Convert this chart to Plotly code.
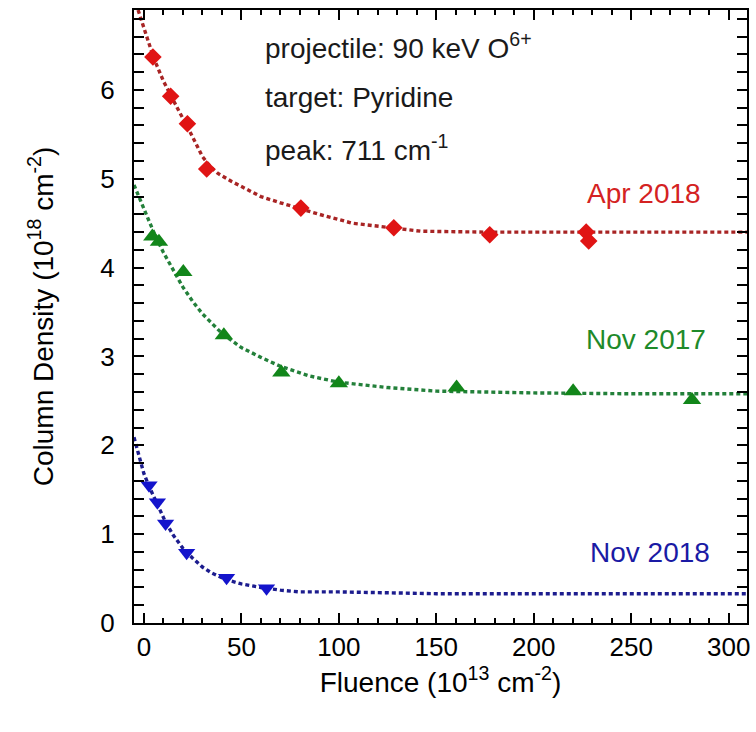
import plotly.graph_objects as go

# ---- Data ----
# Apr 2018 (red diamonds)
apr_x = [4.6, 13.7, 22.3, 32.2, 80.5, 128.2, 177.4, 226.9, 228.2]
apr_y = [6.37, 5.93, 5.62, 5.11, 4.67, 4.45, 4.37, 4.40, 4.30]
apr_fit_x = [-3, 0, 5, 10, 14, 18, 22, 26, 30, 34, 38, 45, 52, 60, 70, 80, 90, 107, 125, 142, 175, 225, 309.4]
apr_fit_y = [6.90, 6.70, 6.36, 6.10, 5.92, 5.76, 5.60, 5.42, 5.25, 5.14, 5.06, 4.97, 4.89, 4.80, 4.73, 4.66, 4.60, 4.50, 4.45, 4.41, 4.40, 4.40, 4.40]

# Nov 2017 (green triangles)
nov17_x = [4.3, 7.7, 20.2, 41.0, 70.5, 100.0, 160.4, 220.2, 281.2]
nov17_y = [4.35, 4.29, 3.95, 3.24, 2.82, 2.70, 2.65, 2.61, 2.51]
nov17_fit_x = [-5.1, 0, 5, 10, 15, 20, 25, 30, 40, 50, 60, 70, 85, 100, 125, 150, 200, 250, 309.4]
nov17_fit_y = [4.93, 4.66, 4.40, 4.17, 3.97, 3.78, 3.62, 3.48, 3.26, 3.10, 2.99, 2.89, 2.78, 2.71, 2.65, 2.61, 2.59, 2.58, 2.58]

# Nov 2018 (blue down-triangles)
nov18_x = [2.6, 6.9, 11.1, 21.9, 42.4, 62.9]
nov18_y = [1.55, 1.36, 1.12, 0.79, 0.51, 0.39]
nov18_fit_x = [-5.1, -2.5, 0, 3, 7, 11, 15, 20, 25, 30, 35, 42, 50, 60, 70, 80, 100, 120, 150, 200, 250, 309.4]
nov18_fit_y = [2.09, 1.87, 1.68, 1.52, 1.32, 1.14, 0.99, 0.84, 0.73, 0.63, 0.56, 0.49, 0.44, 0.40, 0.37, 0.35, 0.35, 0.34, 0.33, 0.33, 0.33, 0.33]

x_ticks = [0, 50, 100, 150, 200, 250, 300]
y_ticks = [0, 1, 2, 3, 4, 5, 6]

X_RANGE = [-5.1, 309.4]
Y_RANGE = [0, 6.9]

FONT = "Liberation Sans, Arial, sans-serif"

fig = go.Figure()

series = [
    (apr_fit_x, apr_fit_y, apr_x, apr_y, "#a82424", "#e01414", "diamond", 13.5),
    (nov17_fit_x, nov17_fit_y, nov17_x, nov17_y, "#23803a", "#12861a", "triangle-up", 16),
    (nov18_fit_x, nov18_fit_y, nov18_x, nov18_y, "#1c1c8e", "#1414cc", "triangle-down", 15),
]
for fx, fy, mx, my, lc, mc, sym, sz in series:
    fig.add_trace(go.Scatter(x=fx, y=fy, mode="lines", line=dict(color=lc, width=3.4, dash="4px,3px"),
                             hoverinfo="skip", showlegend=False))
    fig.add_trace(go.Scatter(x=mx, y=my, mode="markers",
                             marker=dict(symbol=sym, size=sz, color=mc, line=dict(width=0)),
                             showlegend=False))

# empty trace so that the top (mirror) axis is rendered
fig.add_trace(go.Scatter(x=[], y=[], xaxis="x2", yaxis="y", mode="lines",
                         hoverinfo="skip", showlegend=False))

tick_common = dict(
    showline=True, linecolor="black", linewidth=2,
    ticks="inside", ticklen=10, tickwidth=2, tickcolor="black",
    showgrid=False, zeroline=False,
    tickfont=dict(family=FONT, size=26, color="black"),
)
x_minor = dict(dtick=10, tick0=0, ticks="inside", ticklen=5, tickwidth=1.5, tickcolor="black")
y_minor = dict(dtick=0.2, tick0=0, ticks="inside", ticklen=5, tickwidth=1.5, tickcolor="black")

fig.update_layout(
    xaxis=dict(
        range=X_RANGE, tickvals=x_ticks, ticktext=[str(v) for v in x_ticks], minor=x_minor,
        title=dict(text="Fluence (10<sup>13</sup> cm<sup>-2</sup>)", font=dict(family=FONT, size=28, color="black"), standoff=8),
        mirror=False, **tick_common,
    ),
    xaxis2=dict(
        range=X_RANGE, tickvals=x_ticks, showticklabels=False, minor=x_minor,
        overlaying="x", side="top", anchor="y", mirror=False, **tick_common,
    ),
    yaxis=dict(
        range=Y_RANGE, tickvals=y_ticks, ticktext=[str(v) for v in y_ticks], minor=y_minor,
        title=dict(text="Column Density (10<sup>18</sup> cm<sup>-2</sup>)", font=dict(family=FONT, size=28, color="black"), standoff=39),
        ticklabelstandoff=12, mirror="allticks", **tick_common,
    ),
)

ann_font = dict(family=FONT, size=28, color="#1a1a1a")
fig.add_annotation(x=61.0, y=6.50, xref="x", yref="y", xanchor="left", yanchor="middle", showarrow=False,
                   text="projectile: 90 keV O<sup>6+</sup>", font=ann_font)
fig.add_annotation(x=61.0, y=5.91, xref="x", yref="y", xanchor="left", yanchor="middle", showarrow=False,
                   text="target: Pyridine", font=ann_font)
fig.add_annotation(x=61.0, y=5.35, xref="x", yref="y", xanchor="left", yanchor="middle", showarrow=False,
                   text="peak: 711 cm<sup>-1</sup>", font=ann_font)

fig.add_annotation(x=256.7, y=4.83, xref="x", yref="y", showarrow=False, text="Apr 2018",
                   font=dict(family=FONT, size=28, color="#d42222"))
fig.add_annotation(x=257.7, y=3.19, xref="x", yref="y", showarrow=False, text="Nov 2017",
                   font=dict(family=FONT, size=28, color="#1e8a2a"))
fig.add_annotation(x=259.8, y=0.79, xref="x", yref="y", showarrow=False, text="Nov 2018",
                   font=dict(family=FONT, size=28, color="#1a1aa4"))

fig.update_layout(
    width=756, height=732,
    margin=dict(l=134, r=9, t=10, b=109, autoexpand=False),
    paper_bgcolor="white", plot_bgcolor="white",
    font=dict(family=FONT, color="black"),
)

fig.write_html("out.html", config={"displayModeBar": False},
               post_script="document.body.style.margin='0';document.body.style.overflow='hidden';")
